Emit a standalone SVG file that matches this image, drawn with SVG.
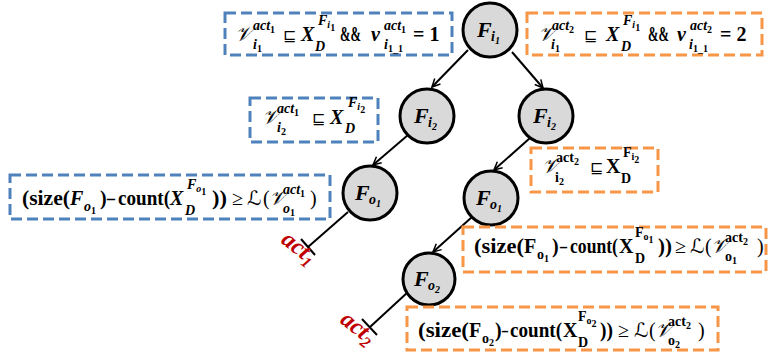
<svg xmlns="http://www.w3.org/2000/svg" width="769" height="356" viewBox="0 0 769 356">
<defs>
<style>
.bb{fill:none;stroke:#4F81BD;stroke-width:3;stroke-dasharray:11 5}
.bo{fill:none;stroke:#F79646;stroke-width:3;stroke-dasharray:11 5}
.nd circle{fill:#D9D9D9;stroke:#000;stroke-width:3}
.t{font-family:"Liberation Serif","DejaVu Serif",serif;font-weight:bold;font-size:20px;fill:#000}
.nt{font-family:"Liberation Serif","DejaVu Serif",serif;font-weight:bold;font-style:italic;font-size:22px;fill:#000}
.i{font-style:italic}
.s{font-size:14px}
.ss{font-size:10px}
.n{font-weight:normal}
.op{font-family:"DejaVu Sans",sans-serif;font-size:16px;font-weight:normal}
.scr{font-family:"DejaVu Serif","DejaVu Sans",serif;font-size:20px;font-style:italic;font-weight:normal}
.act{font-family:"Liberation Serif",serif;font-style:italic;font-weight:bold;font-size:24px;fill:#C00000}
.cn line{stroke:#000;stroke-width:2}
.ar{marker-end:url(#ah)}
</style>
<marker id="ah" viewBox="0 0 10 10" refX="9" refY="5" markerWidth="5" markerHeight="5" orient="auto" markerUnits="strokeWidth">
<path d="M1,1 L9,5 L1,9" fill="none" stroke="#000" stroke-width="1.5"/>
</marker>
</defs>
<rect width="769" height="356" fill="#fff"/>

<g id="connectors" class="cn">
<line class="ar" x1="468" y1="50" x2="432" y2="87"/>
<line class="ar" x1="512" y1="52" x2="543" y2="88"/>
<line class="ar" x1="408" y1="135" x2="373" y2="165"/>
<line class="ar" x1="530" y1="138" x2="494" y2="170"/>
<line class="ar" x1="472" y1="217" x2="433" y2="252"/>
<line x1="348" y1="212" x2="308" y2="247"/>
<line x1="301" y1="239" x2="315" y2="255"/>
<line x1="408" y1="292" x2="370" y2="327"/>
<line x1="362" y1="319" x2="377" y2="335"/>
</g>

<g id="node-Fi1" class="nd">
<circle cx="490" cy="30" r="27"/>
<text class="nt"><tspan x="477" y="37">F</tspan><tspan x="491" y="41" class="s">i</tspan><tspan y="44" class="ss">1</tspan></text>
</g>
<g id="node-Fi2-left" class="nd">
<circle cx="427" cy="116" r="27"/>
<text class="nt"><tspan x="414" y="123">F</tspan><tspan x="428" y="127" class="s">i</tspan><tspan y="130" class="ss">2</tspan></text>
</g>
<g id="node-Fi2-right" class="nd">
<circle cx="546" cy="116" r="27"/>
<text class="nt"><tspan x="533" y="123">F</tspan><tspan x="547" y="127" class="s">i</tspan><tspan y="130" class="ss">2</tspan></text>
</g>
<g id="node-Fo1-left" class="nd">
<circle cx="370" cy="193" r="27"/>
<text class="nt"><tspan x="355" y="200">F</tspan><tspan x="369" y="204" class="s">o</tspan><tspan y="207" class="ss">1</tspan></text>
</g>
<g id="node-Fo1-right" class="nd">
<circle cx="491" cy="198" r="27"/>
<text class="nt"><tspan x="476" y="205">F</tspan><tspan x="490" y="209" class="s">o</tspan><tspan y="212" class="ss">1</tspan></text>
</g>
<g id="node-Fo2" class="nd">
<circle cx="429" cy="279" r="26"/>
<text class="nt"><tspan x="414" y="286">F</tspan><tspan x="428" y="290" class="s">o</tspan><tspan y="293" class="ss">2</tspan></text>
</g>

<g id="label-act1">
<text class="act" transform="translate(280,242) rotate(38)">act<tspan dy="5" font-size="16">1</tspan></text>
</g>
<g id="label-act2">
<text class="act" transform="translate(339,322) rotate(38)">act<tspan dy="5" font-size="16">2</tspan></text>
</g>

<g id="box-cond-i1-act1">
<rect class="bb" x="225" y="13" width="227" height="42"/>
<text class="t">
<tspan x="235" y="41" class="scr">𝒱</tspan>
<tspan x="253" y="49" class="s i">i</tspan><tspan y="52" class="ss">1</tspan>
<tspan x="253" y="30" class="s i">act</tspan><tspan y="33" class="ss">1</tspan>
<tspan x="283" y="41" class="op">⊑</tspan>
<tspan x="301" y="41" class="i">X</tspan>
<tspan x="315" y="51" class="s i">D</tspan>
<tspan x="318" y="25" class="s i">F</tspan><tspan y="28" class="ss i">i</tspan><tspan y="31" class="ss">1</tspan>
<tspan x="340" y="41" textLength="21" lengthAdjust="spacingAndGlyphs">&amp;&amp;</tspan>
<tspan x="371" y="41" class="i">v</tspan>
<tspan x="384" y="30" class="s i">act</tspan><tspan y="33" class="ss">1</tspan>
<tspan x="384" y="49" class="s i">i</tspan><tspan y="52" class="ss">1_1</tspan>
<tspan x="413" y="41">= 1</tspan>
</text>
</g>

<g id="box-cond-i1-act2">
<rect class="bo" x="527" y="13" width="235" height="42"/>
<text class="t">
<tspan x="538" y="41" class="scr">𝒱</tspan>
<tspan x="551" y="49" class="s i">i</tspan><tspan y="52" class="ss">1</tspan>
<tspan x="552" y="30" class="s i">act</tspan><tspan y="33" class="ss">2</tspan>
<tspan x="584" y="41" class="op">⊑</tspan>
<tspan x="606" y="41" class="i">X</tspan>
<tspan x="621" y="51" class="s i">D</tspan>
<tspan x="623" y="25" class="s i">F</tspan><tspan y="28" class="ss i">i</tspan><tspan y="31" class="ss">1</tspan>
<tspan x="648" y="41" textLength="21" lengthAdjust="spacingAndGlyphs">&amp;&amp;</tspan>
<tspan x="677" y="41" class="i">v</tspan>
<tspan x="690" y="30" class="s i">act</tspan><tspan y="33" class="ss">2</tspan>
<tspan x="689" y="49" class="s i">i</tspan><tspan y="52" class="ss">1_1</tspan>
<tspan x="720" y="41">= 2</tspan>
</text>
</g>

<g id="box-cond-i2-act1">
<rect class="bb" x="250" y="98" width="128" height="44"/>
<text class="t">
<tspan x="262" y="124" class="scr">𝒱</tspan>
<tspan x="277" y="132" class="s i">i</tspan><tspan y="135" class="ss">2</tspan>
<tspan x="277" y="113" class="s i">act</tspan><tspan y="116" class="ss">1</tspan>
<tspan x="312" y="124" class="op">⊑</tspan>
<tspan x="330" y="124" class="i">X</tspan>
<tspan x="345" y="133" class="s i">D</tspan>
<tspan x="348" y="107" class="s i">F</tspan><tspan y="110" class="ss i">i</tspan><tspan y="113" class="ss">2</tspan>
</text>
</g>

<g id="box-cond-i2-act2">
<rect class="bo" x="531" y="148" width="127" height="44"/>
<text class="t">
<tspan x="542" y="173" class="scr">𝒱</tspan>
<tspan x="555" y="182" class="s">i</tspan><tspan y="185" class="ss">2</tspan>
<tspan x="556" y="162" class="s">act</tspan><tspan y="165" class="ss">2</tspan>
<tspan x="590" y="173" class="op">⊑</tspan>
<tspan x="606" y="173">X</tspan>
<tspan x="621" y="183" class="s">D</tspan>
<tspan x="623" y="157" class="s">F</tspan><tspan y="160" class="ss">i</tspan><tspan y="163" class="ss">2</tspan>
</text>
</g>

<g id="box-size-o1-act1">
<rect class="bb" x="10" y="175" width="320" height="44"/>
<text class="t">
<tspan x="22" y="205" textLength="48" lengthAdjust="spacingAndGlyphs">(size(</tspan>
<tspan x="70" y="205" class="i">F</tspan>
<tspan x="84" y="211" class="s i">o</tspan><tspan y="214" class="ss">1</tspan>
<tspan x="100" y="205">)</tspan>
<tspan x="107" y="205" textLength="8" lengthAdjust="spacingAndGlyphs">–</tspan>
<tspan x="118" y="205" textLength="52" lengthAdjust="spacingAndGlyphs">count(</tspan>
<tspan x="170" y="205" class="i">X</tspan>
<tspan x="185" y="215" class="s i">D</tspan>
<tspan x="187" y="189" class="s i">F</tspan><tspan y="192" class="ss i">o</tspan><tspan y="195" class="ss">1</tspan>
<tspan x="212" y="205" textLength="15" lengthAdjust="spacingAndGlyphs">))</tspan>
<tspan x="232" y="205" class="n">≥</tspan>
<tspan x="247" y="205" class="scr">ℒ</tspan>
<tspan x="263" y="205" class="n">(</tspan>
<tspan x="269" y="205" class="scr">𝒱</tspan>
<tspan x="283" y="194" class="s i">act</tspan><tspan y="197" class="ss">1</tspan>
<tspan x="283" y="213" class="s i">o</tspan><tspan y="216" class="ss">1</tspan>
<tspan x="310" y="205" class="n">)</tspan>
</text>
</g>

<g id="box-size-o1-act2">
<rect class="bo" x="463" y="227" width="303" height="45"/>
<text class="t">
<tspan x="474" y="253" textLength="50" lengthAdjust="spacingAndGlyphs">(size(</tspan>
<tspan x="524" y="253">F</tspan>
<tspan x="537" y="259" class="s">o</tspan><tspan y="262" class="ss">1</tspan>
<tspan x="552" y="253">)</tspan>
<tspan x="560" y="253" textLength="7" lengthAdjust="spacingAndGlyphs">–</tspan>
<tspan x="570" y="253" textLength="48" lengthAdjust="spacingAndGlyphs">count(</tspan>
<tspan x="619" y="253">X</tspan>
<tspan x="635" y="263" class="s">D</tspan>
<tspan x="635" y="237" class="s">F</tspan><tspan y="240" class="ss">o</tspan><tspan y="243" class="ss">1</tspan>
<tspan x="658" y="253" textLength="14" lengthAdjust="spacingAndGlyphs">))</tspan>
<tspan x="675" y="253" class="n">≥</tspan>
<tspan x="690" y="253" class="scr">ℒ</tspan>
<tspan x="705" y="253" class="n">(</tspan>
<tspan x="711" y="253" class="scr">𝒱</tspan>
<tspan x="725" y="242" class="s">act</tspan><tspan y="245" class="ss">2</tspan>
<tspan x="725" y="261" class="s">o</tspan><tspan y="264" class="ss">1</tspan>
<tspan x="757" y="253" class="n">)</tspan>
</text>
</g>

<g id="box-size-o2-act2">
<rect class="bo" x="407" y="307" width="311" height="43"/>
<text class="t">
<tspan x="418" y="337" textLength="51" lengthAdjust="spacingAndGlyphs">(size(</tspan>
<tspan x="469" y="337">F</tspan>
<tspan x="482" y="343" class="s">o</tspan><tspan y="346" class="ss">2</tspan>
<tspan x="495" y="337">)</tspan>
<tspan x="502" y="337" textLength="6" lengthAdjust="spacingAndGlyphs">–</tspan>
<tspan x="510" y="337" textLength="52" lengthAdjust="spacingAndGlyphs">count(</tspan>
<tspan x="563" y="337">X</tspan>
<tspan x="578" y="347" class="s">D</tspan>
<tspan x="578" y="321" class="s">F</tspan><tspan y="324" class="ss">o</tspan><tspan y="327" class="ss">2</tspan>
<tspan x="600" y="337" textLength="13" lengthAdjust="spacingAndGlyphs">))</tspan>
<tspan x="618" y="337" class="n">≥</tspan>
<tspan x="634" y="337" class="scr">ℒ</tspan>
<tspan x="649" y="337" class="n">(</tspan>
<tspan x="655" y="337" class="scr">𝒱</tspan>
<tspan x="668" y="326" class="s">act</tspan><tspan y="329" class="ss">2</tspan>
<tspan x="668" y="345" class="s">o</tspan><tspan y="348" class="ss">2</tspan>
<tspan x="698" y="337" class="n">)</tspan>
</text>
</g>
</svg>
